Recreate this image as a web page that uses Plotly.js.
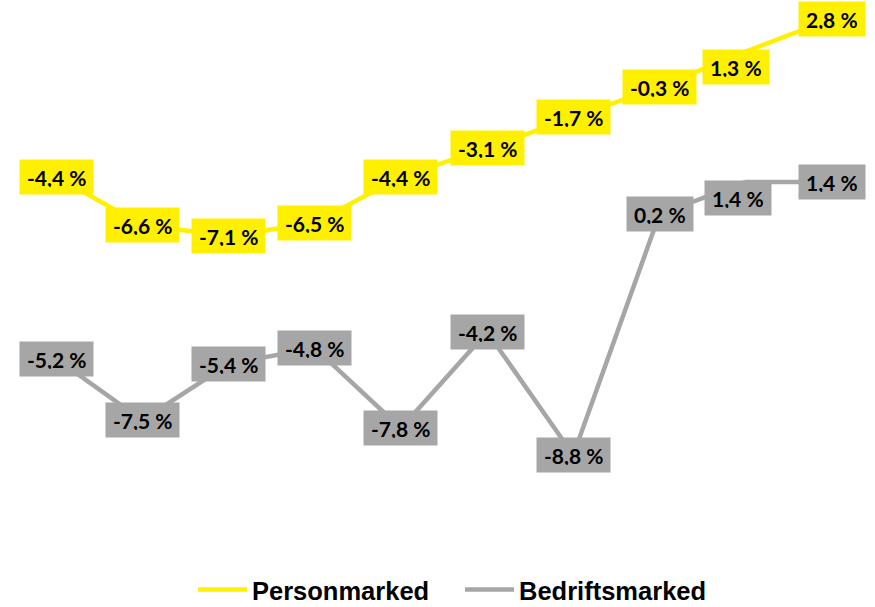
<!DOCTYPE html>
<html>
<head>
<meta charset="utf-8">
<script src="https://cdn.plot.ly/plotly-3.0.1.min.js"></script>
<style>
  html, body { margin: 0; padding: 0; background: #ffffff; }
  #chart { width: 875px; height: 607px; }
</style>
</head>
<body>
<div id="chart"></div>
<script>
// Ten consecutive periods, growth in percent
const periods = [1, 2, 3, 4, 5, 6, 7, 8, 9, 10];
const personmarked = [-4.4, -6.6, -7.1, -6.5, -4.4, -3.1, -1.7, -0.3, 1.3, 2.8];
const bedriftsmarked = [-5.2, -7.5, -5.4, -4.8, -7.8, -4.2, -8.8, 0.2, 1.4, 1.4];
const seriesNames = ['Personmarked', 'Bedriftsmarked'];

const YELLOW = '#FFF000';
const GREY = '#A6A6A6';
const LABEL_FONT = { family: 'Lato, "Open Sans", sans-serif', size: 21, color: '#000000', weight: 700 };

// label box nudges (px) where a box sits off its point to avoid the line
const nudgePerson = { 8: { x: -10, y: -15 } };
const nudgeBedrift = { 8: { x: -8, y: -16 } };

function fmt(v) {
  return v.toFixed(1).replace('.', ',') + ' %';
}

function labels(values, yref, color, nudge) {
  return values.map((v, i) => ({
    x: periods[i],
    y: v,
    xref: 'x',
    yref: yref,
    text: fmt(v),
    showarrow: false,
    bgcolor: color,
    borderpad: 7,
    height: 20,
    font: LABEL_FONT,
    xshift: nudge[i] ? nudge[i].x : 0,
    yshift: nudge[i] ? nudge[i].y : 0
  }));
}

const traces = [
  {
    x: periods,
    y: personmarked,
    name: seriesNames[0],
    type: 'scatter',
    mode: 'lines',
    yaxis: 'y',
    line: { color: YELLOW, width: 4.5 },
    hoverinfo: 'skip'
  },
  {
    x: periods,
    y: bedriftsmarked,
    name: seriesNames[1],
    type: 'scatter',
    mode: 'lines',
    yaxis: 'y2',
    line: { color: GREY, width: 4.5 },
    hoverinfo: 'skip'
  }
];

const hiddenAxis = {
  showgrid: false,
  zeroline: false,
  showline: false,
  showticklabels: false,
  ticks: '',
  fixedrange: true
};

const layout = {
  width: 875,
  height: 607,
  margin: { l: 13, r: 0, t: 0, b: 0, autoexpand: false },
  paper_bgcolor: '#ffffff',
  plot_bgcolor: '#ffffff',
  showlegend: true,
  legend: {
    orientation: 'h',
    x: (193 - 13) / 862,
    xanchor: 'left',
    y: 17 / 607,
    yanchor: 'middle',
    itemwidth: 49,
    entrywidth: 203,
    entrywidthmode: 'pixels',
    font: { family: '"Liberation Sans", Arial, sans-serif', size: 25.5, color: '#000000', weight: 700 },
    bgcolor: 'rgba(0,0,0,0)'
  },
  xaxis: Object.assign({ range: [0.5, 10.5] }, hiddenAxis),
  yaxis: Object.assign({ range: [-24.0, 3.652] }, hiddenAxis),
  yaxis2: Object.assign({ range: [-14.48, 8.203], overlaying: 'y', side: 'right' }, hiddenAxis),
  annotations: labels(personmarked, 'y', YELLOW, nudgePerson)
    .concat(labels(bedriftsmarked, 'y2', GREY, nudgeBedrift))
};

Plotly.newPlot('chart', traces, layout, { displayModeBar: false, staticPlot: true });
</script>
</body>
</html>
